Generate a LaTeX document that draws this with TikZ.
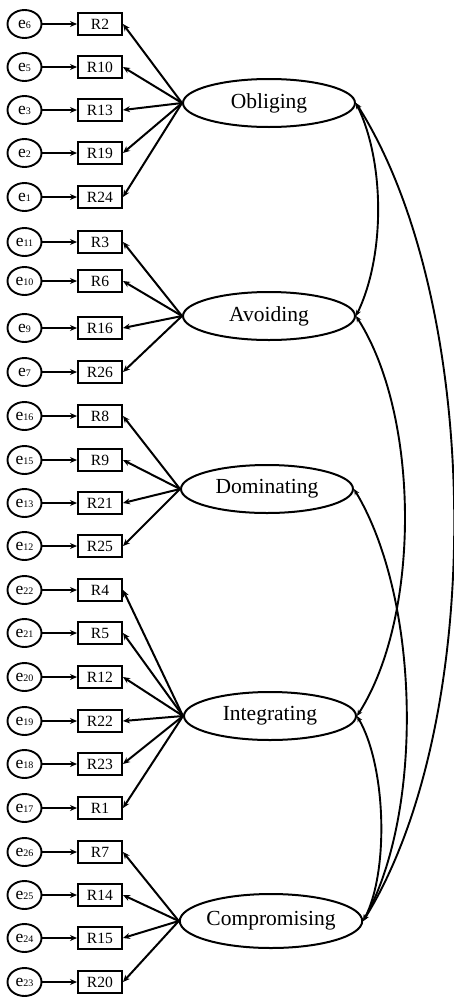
\documentclass[tikz,border=0pt]{standalone}
\usepackage{fontspec}
\setmainfont{Liberation Serif}
\usetikzlibrary{shapes.geometric,arrows.meta}

\tikzset{
  errnode/.style={ellipse,draw,line width=1.9pt,minimum width=34pt,minimum height=28pt,inner sep=0pt,font=\fontsize{17.5}{17}\selectfont},
  itembox/.style={rectangle,draw,line width=2pt,minimum width=44pt,minimum height=22pt,inner sep=0pt,font=\fontsize{15.6}{16}\selectfont},
  factor/.style={ellipse,draw,line width=2pt,minimum width=172pt,minimum height=48pt,inner sep=0pt,font=\fontsize{21.5}{22}\selectfont},
  arr/.style={-{Stealth[length=7pt,width=6pt]},line width=2pt},
  cov/.style={{Stealth[length=6pt,width=5pt]}-{Stealth[length=6pt,width=5pt]},line width=1.9pt}
}

\begin{document}
\begin{tikzpicture}[x=1pt,y=-1pt]
\useasboundingbox (0,0) rectangle (453,999);

% factors
\node[factor] (obl) at (269,103) {Obliging};
\node[factor] (avo) at (269,316) {Avoiding};
\node[factor] (dom) at (267,489) {Dominating};
\node[factor] (int) at (270,716) {Integrating};
\node[factor,minimum height=54pt] (com) at (271,921) {Compromising};

% items with errors
\foreach \en/\rn/\y/\f in {6/2/24/obl,5/10/67/obl,3/13/110/obl,2/19/153/obl,1/24/197/obl,
                           11/3/242/avo,10/6/281/avo,9/16/328/avo,7/26/372/avo,
                           16/8/416/dom,15/9/460/dom,13/21/503/dom,12/25/546/dom,
                           22/4/590/int,21/5/633/int,20/12/677/int,19/22/721/int,18/23/764/int,17/1/808/int,
                           26/7/852/com,25/14/895/com,24/15/938/com,23/20/982/com}{
  \node[errnode] (e\en) at (24.5,\y) {e{\fontsize{10}{10}\selectfont\en}};
  \node[itembox] (r\rn) at (100,\y) {R\rn};
  \draw[arr] (e\en) -- (r\rn);
  \draw[arr] (\f.west) -- (r\rn.east);
}

% covariances
\draw[cov] (obl.east) .. controls +(29,60) and +(29,-60) .. (avo.east);
\draw[cov] (obl.east) .. controls +(127,200) and +(124,-200) .. (com.east);
\draw[cov] (avo.east) .. controls +(64,100) and +(64,-100) .. (int.east);
\draw[cov] (dom.east) .. controls +(66,110) and +(61,-110) .. (com.east);
\draw[cov] (int.east) .. controls +(29,50) and +(26,-50) .. (com.east);

\end{tikzpicture}
\end{document}
